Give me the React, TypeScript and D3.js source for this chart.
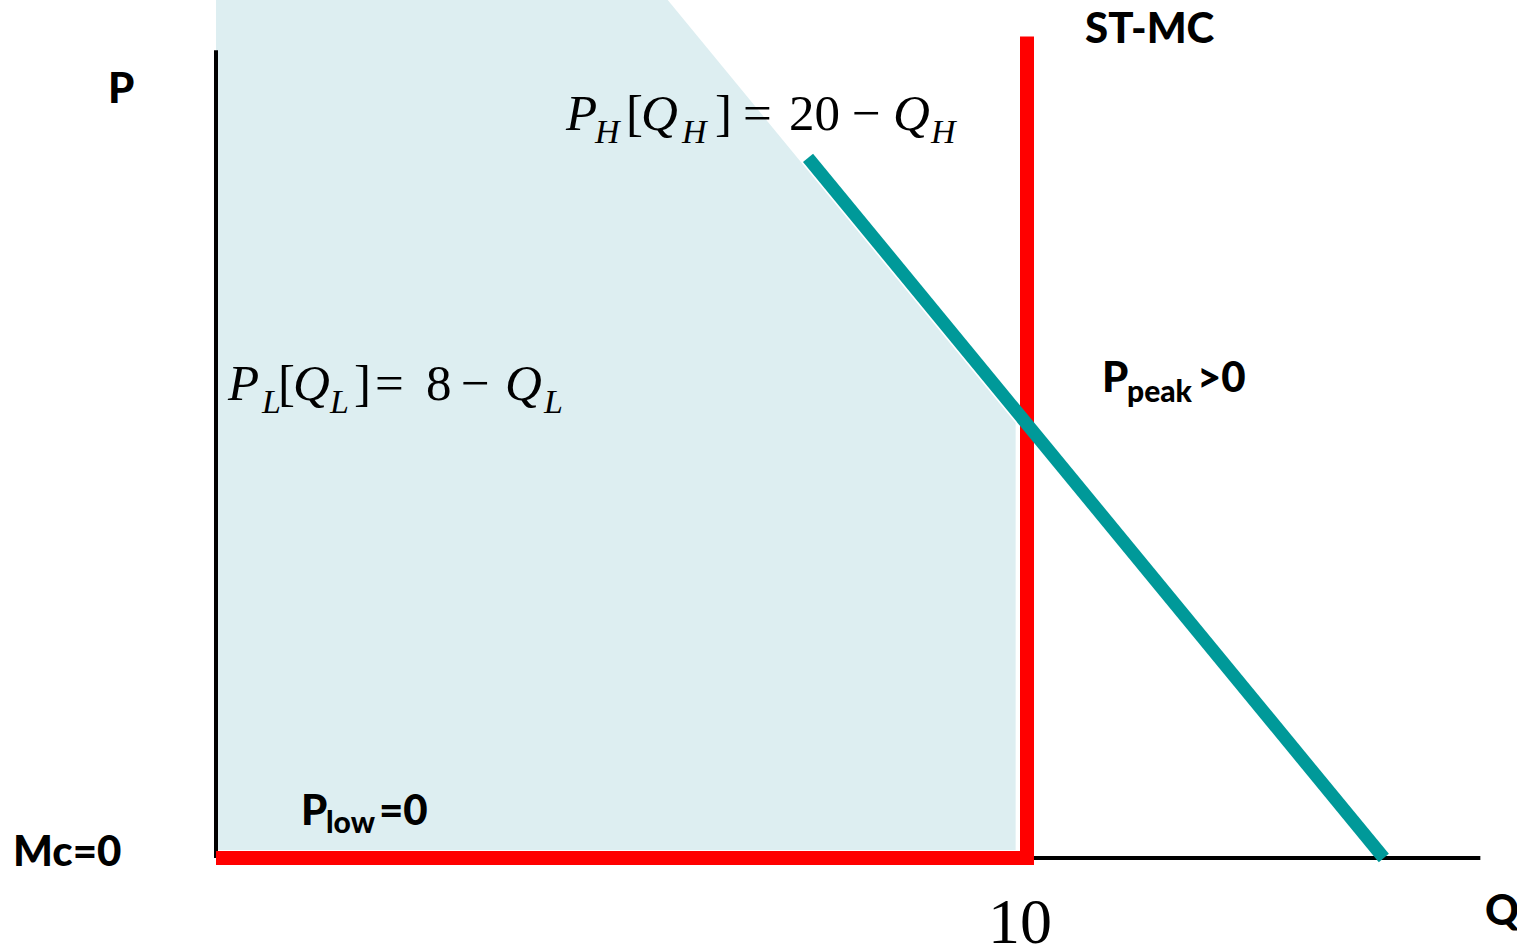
import React from "react";
import * as d3 from "d3";

// ---- data (chart units: Q on x, P on y) ----
const qAxisMax = 15.59;
const pAxisMax = 8.19;
const capacity = 10;
const stmcPoints: [number, number][] = [[0, 0], [10, 0], [10, 8.33]];
const peakDemandPoints: [number, number][] = [[7.3, 7.1], [14.4, 0]];
const shadedAreaPoints: [number, number][] = [[0, 0.08], [0, 8.8], [5.47, 8.8], [9.86, 4.41], [9.86, 0.08]];
const xTickLabels = ["10"];

const W = 1517;
const H = 949;

const serif = "'Liberation Serif', 'Times New Roman', serif";
const sans = "Lato, 'Open Sans', sans-serif";

export default function App() {
  const x = d3.scaleLinear().domain([0, 10]).range([216, 1027]);
  const y = d3.scaleLinear().domain([0, 8.7]).range([858, 0]);
  const line = d3.line<[number, number]>().x((d) => x(d[0])).y((d) => y(d[1]));

  const shaded = line(shadedAreaPoints) + "Z";

  const eqMain = 51;
  const eqSub = 34;
  const boldSize = 42;
  const subBold = 30;

  return (
    <svg width={W} height={H} style={{ position: "absolute", left: 0, top: 0, background: "#fff" }}>
      <path d={shaded} fill="#DDEEF1" stroke="none" />
      {/* axes */}
      <line x1={x(0)} x2={x(0)} y1={y(0)} y2={y(pAxisMax)} stroke="#000" strokeWidth={4} />
      <line x1={x(0)} x2={x(qAxisMax)} y1={y(0)} y2={y(0)} stroke="#000" strokeWidth={4} />
      {/* ST-MC */}
      <path d={line(stmcPoints) || ""} fill="none" stroke="#FF0000" strokeWidth={14} strokeLinejoin="miter" strokeLinecap="butt" />
      {/* peak demand */}
      <path d={line(peakDemandPoints) || ""} fill="none" stroke="#009999" strokeWidth={13} strokeLinecap="butt" />

      {/* bold labels */}
      <g fontFamily={sans} fontWeight={900} fill="#000">
        <text x={108} y={103} fontSize={boldSize}>P</text>
        <text x={1085} y={43} fontSize={boldSize}>ST-MC</text>
        <text x={13} y={866} fontSize={boldSize}>Mc=0</text>
        <text x={1485} y={925} fontSize={boldSize}>Q</text>
        <text x={1102} y={392} fontSize={boldSize}>P</text>
        <text x={1127} y={402} fontSize={subBold}>peak</text>
        <text x={1197} y={392} fontSize={boldSize}>&gt;0</text>
        <text x={301} y={825} fontSize={boldSize}>P</text>
        <text x={326} y={833} fontSize={subBold}>low</text>
        <text x={379} y={825} fontSize={boldSize}>=0</text>
      </g>

      {/* tick label */}
      {xTickLabels.map((t) => (
        <text key={t} x={x(capacity) - 7} y={943} fontSize={64} fontFamily={serif} textAnchor="middle">{t}</text>
      ))}

      {/* Equation: P_H[Q_H] = 20 - Q_H */}
      <g fontFamily={serif} fill="#000">
        <text x={566} y={130} fontSize={eqMain} fontStyle="italic">P</text>
        <text x={595} y={143} fontSize={eqSub} fontStyle="italic">H</text>
        <text x={626} y={130} fontSize={eqMain}>[</text>
        <text x={641} y={130} fontSize={eqMain} fontStyle="italic">Q</text>
        <text x={682} y={143} fontSize={eqSub} fontStyle="italic">H</text>
        <text x={715} y={130} fontSize={eqMain}>]</text>
        <text x={743} y={130} fontSize={eqMain}>=</text>
        <text x={789} y={130} fontSize={eqMain}>20</text>
        <text x={852} y={130} fontSize={eqMain}>−</text>
        <text x={893} y={130} fontSize={eqMain} fontStyle="italic">Q</text>
        <text x={931} y={143} fontSize={eqSub} fontStyle="italic">H</text>
      </g>

      {/* Equation: P_L[Q_L] = 8 - Q_L */}
      <g fontFamily={serif} fill="#000">
        <text x={228} y={400} fontSize={eqMain} fontStyle="italic">P</text>
        <text x={262} y={413} fontSize={eqSub} fontStyle="italic">L</text>
        <text x={278} y={400} fontSize={eqMain}>[</text>
        <text x={293} y={400} fontSize={eqMain} fontStyle="italic">Q</text>
        <text x={330} y={413} fontSize={eqSub} fontStyle="italic">L</text>
        <text x={354} y={400} fontSize={eqMain}>]</text>
        <text x={375} y={400} fontSize={eqMain}>=</text>
        <text x={426} y={400} fontSize={eqMain}>8</text>
        <text x={461} y={400} fontSize={eqMain}>−</text>
        <text x={505} y={400} fontSize={eqMain} fontStyle="italic">Q</text>
        <text x={544} y={413} fontSize={eqSub} fontStyle="italic">L</text>
      </g>
    </svg>
  );
}
